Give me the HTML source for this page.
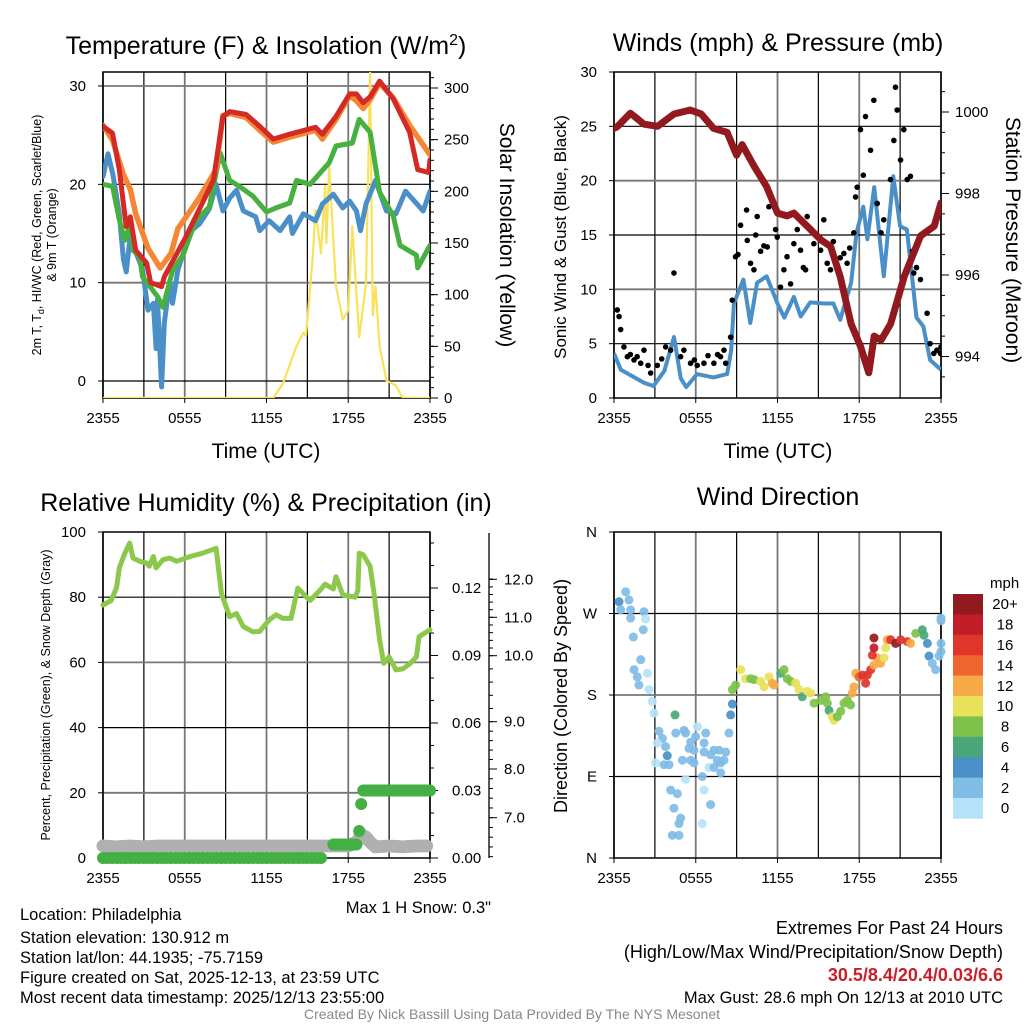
<!DOCTYPE html>
<html><head><meta charset="utf-8"><style>
html,body{margin:0;padding:0;background:#fff;}
svg{display:block;font-family:"Liberation Sans",Arial,sans-serif;}
</style></head><body>
<svg id="c" width="1024" height="1024" viewBox="0 0 1024 1024" xmlns="http://www.w3.org/2000/svg">
<rect width="1024" height="1024" fill="#fff"/>
<g font-size="25" text-anchor="middle" fill="#000">
<text x="266" y="54">Temperature (F) &amp; Insolation (W/m<tspan dy="-9" font-size="16">2</tspan><tspan dy="9">)</tspan></text>
<text x="778" y="51">Winds (mph) &amp; Pressure (mb)</text>
<text x="266" y="511">Relative Humidity (%) &amp; Precipitation (in)</text>
<text x="778" y="505">Wind Direction</text>
</g>
<g font-size="21" text-anchor="middle">
<text x="266" y="458">Time (UTC)</text>
<text x="778" y="458">Time (UTC)</text>
</g>
<g font-size="12.5" text-anchor="middle">
<text transform="translate(41,235) rotate(-90)">2m T, T<tspan dy="3" font-size="9">d</tspan><tspan dy="-3">, HI/WC (Red, Green, Scarlet/Blue)</tspan></text>
<text transform="translate(56,235) rotate(-90)">&amp; 9m T (Orange)</text>
<text transform="translate(50,695) rotate(-90)">Percent, Precipitation (Green), &amp; Snow Depth (Gray)</text>
</g>
<g font-size="21" text-anchor="middle">
<text transform="translate(500,235) rotate(90)">Solar Insolation (Yellow)</text>
<text transform="translate(1006,240) rotate(90)">Station Pressure (Maroon)</text>
</g>
<g font-size="17" text-anchor="middle">
<text transform="translate(566,237) rotate(-90)">Sonic Wind &amp; Gust (Blue, Black)</text>
<text transform="translate(567,696) rotate(-90)" font-size="18">Direction (Colored By Speed)</text>
</g>
<g font-size="16.5">
<text x="20" y="920">Location: Philadelphia</text>
<text x="20" y="943">Station elevation: 130.912 m</text>
<text x="20" y="963">Station lat/lon: 44.1935; -75.7159</text>
<text x="20" y="983">Figure created on Sat, 2025-12-13, at 23:59 UTC</text>
<text x="20" y="1003">Most recent data timestamp: 2025/12/13 23:55:00</text>
<text x="491" y="913" text-anchor="end">Max 1 H Snow: 0.3"</text>
<text x="1003" y="934" text-anchor="end" font-size="18">Extremes For Past 24 Hours</text>
<text x="1003" y="958" text-anchor="end" font-size="18">(High/Low/Max Wind/Precipitation/Snow Depth)</text>
<text x="1003" y="981" text-anchor="end" font-size="18" font-weight="bold" fill="#c8202a">30.5/8.4/20.4/0.03/6.6</text>
<text x="1003" y="1003" text-anchor="end">Max Gust: 28.6 mph On 12/13 at 2010 UTC</text>
<text x="512" y="1019" text-anchor="middle" font-size="14" fill="#888">Created By Nick Bassill Using Data Provided By The NYS Mesonet</text>
</g>
<g id="plots"></g>
</svg>
<script>
// ---------- data ----------
const xTickLabels = ["2355","0555","1155","1755","2355"];
const tempTicks = [0,10,20,30];
const insolTicks = [0,50,100,150,200,250,300];
const windTicks = [0,5,10,15,20,25,30];
const presTicks = [994,996,998,1000];
const rhTicks = [0,20,40,60,80,100];
const precipTicks = [0.00,0.03,0.06,0.09,0.12];
const snowTickVals = [7,8,9,10,11,12];
const dirTickLabels = ["N","E","S","W","N"];
const dirTickVals = [0,90,180,270,360];
const speedBins = ["0","2","4","6","8","10","12","14","16","18","20+"];

const redT = [0,0.7,1.2,1.7,2.0,2.4,3.2,3.5,4.3,4.5,6.1,8.1,8.8,9.3,10.5,11.5,12.5,13.7,15.6,16.1,17.1,18.1,18.6,19.1,19.6,20.3,21.3,22.5,23.1,23.9,24];
const redV = [25.9,25.2,21.5,15.7,16.7,13.3,12,10,9.6,10.6,14.7,20.4,26.9,27.4,27.1,25.9,24.6,25.1,25.8,25.1,26.9,29.2,29.2,28.3,28.9,30.5,28.7,25.3,21.5,21.2,22.5];
const orgT = [0,0.7,1.5,2,2.4,3.3,4.2,5,5.5,6,7,8.3,8.8,9.3,10.5,11.5,12.5,13.7,15.6,16.1,17.1,18.1,18.6,19.1,19.6,20.3,21.3,22.5,24];
const orgV = [26,24.5,21,19.5,17,13.5,11.5,13,15.5,16.5,18.5,21.5,27,27.2,26.8,25.5,24.3,24.8,25.5,24.6,26.6,29,28.5,27.7,28.6,30.3,28.8,26,23];
const grnT = [0,0.7,1.2,1.6,2,2.2,2.7,2.9,4,4.4,5.1,5.9,6.8,7.8,8.6,9.3,10,11,12,12.7,13.7,14.2,15.2,16.6,17.1,18.3,18.8,19.6,20.3,21.3,21.8,23,23.1,24];
const grnV = [20,19.8,16.4,14.3,16,13.3,12.6,10.6,8.6,7.5,11.2,12.9,16.3,17.7,23.2,20.4,19.8,18.8,17.2,17.6,18.1,20.4,20,22.2,23.9,24.2,26.6,25.3,19.2,16.8,13.8,12.8,11.5,13.8];
const bluT = [0,0.37,0.73,1.2,1.5,1.7,2,2.4,2.9,3.3,3.7,3.9,4,4.3,4.5,4.9,5.1,5.5,6.4,7.1,7.8,8.3,8.8,9.3,9.8,10.3,11.2,11.5,12.2,13,13.7,13.9,14.7,15.6,16.1,16.9,17.6,18.1,18.6,18.9,19.3,20,20.8,21.5,22.2,23.5,24];
const bluV = [20.8,23.1,21,17,12.4,11.1,14.8,13.1,11.4,7.2,7.9,3.3,8.3,-0.6,5.9,10.2,7.9,11.3,15.2,16,17.5,20,17.3,18.6,19.4,17.3,16.7,15.3,16.3,15.3,16.7,15,17,16.3,18,19,17.6,18.3,17.3,15.3,18,20.4,17.3,17,19.3,17.3,19.3];
const solT = [0,12.5,13.2,14.2,14.7,14.9,15.4,15.6,16,16.3,16.4,16.6,17.1,17.6,18,18.3,18.8,19.3,19.6,19.8,20,20.3,20.8,21.5,22,24];
const solV = [0,0,14,50,63,60,137,182,140,205,150,224,108,76,85,166,59,110,315,80,108,50,17,12,0,0];

const windT = [0,0.5,1.5,2.2,2.9,3.7,4.4,4.9,5.3,6.1,7.3,8.3,8.6,8.8,9.5,10,10.5,11.2,12,12.5,13.2,13.7,14.4,15.4,16.1,16.6,17.4,17.8,18.3,18.6,19.1,19.8,20.5,21,21.5,22.2,22.7,23.2,24];
const windV = [4.1,2.6,1.9,1.4,1.1,2.5,5.6,1.8,1,2.2,1.9,2.2,4.4,8.7,10.9,6.9,10.6,11.2,8.7,7.4,9.3,7.5,8.8,8.7,8.7,7.2,10.6,15.2,17.6,14.6,19.4,11.2,20.4,15.8,15.5,7.4,6.6,3.5,2.6];
const gustT = [0.24,0.37,0.49,0.73,0.98,1.2,1.47,1.7,1.96,2.2,2.5,2.69,3.18,3.5,3.79,4.16,4.4,4.89,5.13,5.62,5.9,6.11,6.6,6.9,7.33,7.6,7.82,8.07,8.2,8.56,8.68,8.92,9.1,9.29,9.73,9.78,10.02,10.27,10.4,10.51,10.76,11.0,11.25,11.37,11.86,11.98,12.22,12.47,12.7,12.96,13.2,13.45,13.69,13.9,14.06,14.18,14.67,14.9,15.16,15.4,15.65,15.89,16.1,16.38,16.6,16.87,17.11,17.3,17.6,17.73,17.85,18.09,18.3,18.46,18.83,19.07,19.32,19.6,19.8,20.29,20.54,20.66,20.78,21.03,21.27,21.52,21.76,21.9,22.0,22.2,22.49,22.98,23.2,23.47,23.7,23.96,24];
const gustV = [8.1,7.5,6.3,4.7,3.8,4.0,3.5,3.8,3.2,4.4,3.0,2.3,3.0,3.6,4.7,4.4,11.5,3.8,4.4,3.2,3.5,3.0,3.2,3.9,3.2,4.0,3.8,4.4,3.2,5.6,9.0,13.0,13.2,15.9,17.3,14.5,12.4,11.8,15.0,16.7,13.5,14.0,13.9,17.6,15.5,14.8,10.2,11.8,13.0,10.5,14.2,15.5,13.6,12.0,11.8,16.7,14.2,15.0,13.6,16.4,12.4,11.8,14.4,11.8,12.9,13.3,12.4,13.8,15.2,18.5,19.4,24.7,20.5,25.9,22.8,27.4,17.9,15.2,16.4,20.1,23.7,28.6,26.5,21.9,24.7,20.1,20.4,13.5,11.5,12.0,10.9,7.8,5.0,4.1,4.4,4.1,4.7];
const presT = [0,0.24,1.2,2.2,3.2,4.4,5.6,6.4,7.3,8.3,9,9.4,10.3,11.2,12,12.7,13.2,14.2,15.2,15.9,16.6,17.4,18.1,18.7,19.1,19.6,20.3,21.3,22.5,23.5,24];
const presV = [999.6,999.64,999.97,999.7,999.65,999.95,1000.05,999.95,999.6,999.5,998.94,999.2,998.66,998.17,997.52,997.45,997.52,997.19,996.86,996.7,995.96,994.8,994.24,993.6,994.5,994.4,994.8,995.96,996.96,997.2,997.77];

const rhT = [0,0.6,1,1.2,1.6,1.96,2.2,2.7,3.2,3.4,3.7,3.9,4.4,4.9,5.4,6.4,7.3,8.3,8.7,9.3,9.8,10.3,11,11.5,12.2,12.7,13.2,13.8,14.3,14.7,15.2,15.9,16.3,16.9,17.1,17.6,18.5,18.7,18.8,19.1,19.6,19.9,20.3,20.6,21,21.5,22,22.5,23,23.2,24];
const rhV = [77.6,79,83,89,93.5,96.6,92,91,90.5,89.5,92.5,89,91.5,92,91,92.5,93.5,95,81,74,75,71,69.4,69.5,73,74.6,73.5,73.5,82.8,81,79,82,84,82.5,86.3,80.7,80,82,93.5,93,89.5,81,67,59.7,61.7,57.7,58,59.5,61.7,67.9,70];
const precipT = [0,2,4,6,8,10,12,14,16,16.9,17.3,17.8,18.2,18.6,18.8,18.95,19.1,19.6,20,20.5,21,21.5,22,22.5,23,23.5,24];
const precipV = [0,0,0,0,0,0,0,0,0,0.006,0.006,0.006,0.006,0.006,0.012,0.024,0.03,0.03,0.03,0.03,0.03,0.03,0.03,0.03,0.03,0.03,0.03];
const snowT = [0,1,2,3,4,5,6,7,8,9,10,11,12,13,14,15,16,17,18,18.6,19,19.3,19.6,20,21,22,23,24];
const snowV = [6.42,6.4,6.42,6.4,6.42,6.42,6.42,6.42,6.42,6.42,6.42,6.42,6.42,6.42,6.42,6.42,6.42,6.42,6.42,6.5,6.65,6.6,6.5,6.4,6.42,6.4,6.42,6.42];

const dirT = [0.37,0.49,0.86,1.1,1.22,2.2,1.22,2.32,1.42,2.15,1.96,1.47,1.71,2.45,1.83,2.57,2.81,2.94,3.3,3.55,3.18,3.79,3.91,3.67,3.06,4.04,4.48,4.53,5.14,5.26,5.5,5.63,5.99,6.12,5.87,5.02,5.63,6.73,6.61,6.61,7.09,7.34,7.71,8.2,8.44,8.56,8.69,6.97,7.34,7.83,7.83,4.16,4.65,4.4,4.89,4.77,4.28,4.77,5.26,6.48,6.61,7.09,6.48,5.87,7.58,8.07,
8.69,8.93,9.3,9.66,10.03,10.28,10.76,11.01,11.38,11.62,11.74,12.23,12.48,12.72,12.97,13.33,13.58,13.82,14.19,14.43,14.68,15.17,15.54,15.66,15.78,16.15,16.02,16.39,16.64,16.88,17.13,17.37,17.49,17.61,17.74,17.98,18.23,18.47,18.59,18.84,19.08,19.33,19.57,19.82,18.96,19.08,19.08,19.94,20.06,20.31,20.67,21.04,21.53,21.77,22.14,22.63,22.75,23.0,23.12,23.36,23.61,23.85,24,24,24,24];
const dirDeg = [283,274,294,285,274,272,265,264,244,252,219,208,200,204,191,186,173,160,140,132,127,123,113,103,105,103,158,138,141,138,121,128,134,145,119,108,108,138,127,117,114,119,119,117,138,158,170,100,100,105,94,75,71,55,44,38,25,25,87,90,75,59,38,105,108,108,
186,191,208,198,198,197,195,189,200,193,191,204,208,198,195,193,186,178,184,182,171,174,178,171,163,152,156,156,162,171,174,169,182,189,204,200,202,193,202,208,213,221,215,221,224,232,243,232,241,241,237,241,239,237,248,252,246,237,223,215,208,223,228,237,262,265];
const dirSpd = [4.5,3,3,3,3,3,3,1,3,3,3,3,3,1,3,1,1,1,3,3,1,3,4.5,3,1,3,6.5,3,3,3,3,3,3,1,3,3,3,3,3,3,3,3,3,3,3,4.5,4.5,1,3,3,3,3,3,3,3,3,3,3,1,3,1,3,1,3,3,3,
8.5,8.5,10.5,10.5,8.5,8.5,10.5,10.5,10.5,12.5,12.5,6.5,8.5,8.5,8.5,10.5,10.5,6.5,10.5,10.5,8.5,8.5,8.5,8.5,6.5,10.5,10.5,8.5,8.5,8.5,8.5,8.5,13,13,13,15,16,17,16,16,13,12.5,12.5,10.5,17,18,21,10.5,12.5,16,21,16,17,13,8.5,6.5,6.5,4.5,4.5,3,3,3,3,3,3,3];
const binColors = ["#b5e2f8","#7fbce6","#4a8fc7","#4aa878","#7dc24b","#e8e15a","#f7a847","#f0642e","#e0352b","#c11c27","#921a1e"];

// ---------- helpers ----------
const NS="http://www.w3.org/2000/svg";
const root=document.getElementById('plots');
function mk(tag,attrs,parent){const e=document.createElementNS(NS,tag);for(const k in attrs)e.setAttribute(k,attrs[k]);(parent||root).appendChild(e);return e;}
function lin(d0,d1,r0,r1){return v=>r0+(v-d0)*(r1-r0)/(d1-d0);}
function pathD(ts,vs,fx,fy){return ts.map((t,i)=>(i?'L':'M')+fx(t).toFixed(1)+','+fy(vs[i]).toFixed(1)).join('');}

function frame(p,name){
  const g=mk('g',{});
  
  
  for(let h=0;h<=24;h+=3){const x=p.fx(h);mk('line',{x1:x,x2:x,y1:p.y0,y2:p.y1,stroke:(h%6===3)?'#000':'#777','stroke-width':(h%6===3)?1.2:1.8},g);}
  p.hgrid.forEach((y,i)=>mk('line',{x1:p.x0,x2:p.x1,y1:y,y2:y,stroke:i%2?'#777':'#000','stroke-width':i%2?1.8:1.2},g));
  const b=mk('rect',{x:p.x0,y:p.y0,width:p.x1-p.x0,height:p.y1-p.y0,fill:'none',stroke:'#000','stroke-width':1.5});
  
  
  xTickLabels.forEach((l,i)=>{const x=p.fx(i*6);
    mk('line',{x1:x,x2:x,y1:p.y1,y2:p.y1+5,stroke:'#000'});
    const t=mk('text',{x:x,y:p.y1+25,'text-anchor':'middle','font-size':15});t.textContent=l;
    
    });
}
function leftTicks(p,vals,fy,fmt){vals.forEach(v=>{const y=fy(v);
  mk('line',{x1:p.x0-5,x2:p.x0,y1:y,y2:y,stroke:'#000'});
  const t=mk('text',{x:p.x0-17,y:y+5,'text-anchor':'end','font-size':15});t.textContent=fmt?fmt(v):v;
  
  });}
function rightTicks(x,vals,fy,fmt,minorStep,lo,hi,labOff){
  for(let v=lo;v<=hi+1e-9;v+=minorStep){const y=fy(v);mk('line',{x1:x,x2:x+4,y1:y,y2:y,stroke:'#000'});}
  vals.forEach(v=>{const y=fy(v);mk('line',{x1:x,x2:x+8,y1:y,y2:y,stroke:'#000'});
  const t=mk('text',{x:x+(labOff||14),y:y+5,'font-size':15});t.textContent=fmt?fmt(v):v;
  
  });}

// ---------- panel 1 ----------
{const p={x0:103,x1:430,y0:72,y1:398};p.fx=lin(0,24,p.x0,p.x1);
 const fy=lin(0,30,381,86), fs=lin(0,300,398,88);
 p.hgrid=[fy(30),fy(20),fy(10),fy(0)].reverse();
 frame(p,'temperature');
 leftTicks(p,tempTicks,fy);
 rightTicks(p.x1,insolTicks,fs,null,10,0,310);
 const clip=mk('clipPath',{id:'c1'});mk('rect',{x:p.x0,y:p.y0,width:p.x1-p.x0,height:p.y1-p.y0},clip);
 const g=mk('g',{'clip-path':'url(#c1)'});
 const s=[[solT,solV,'#f9e15a',2.2,'insolation-line',fs],[bluT,bluV,'#4a8fc7',5,'heat-index-line',fy],[grnT,grnV,'#46b040',5,'dewpoint-line',fy],[orgT,orgV,'#f58634',5.5,'temp-9m-line',fy],[redT,redV,'#d42a26',5,'temp-2m-line',fy]];
 s.forEach(a=>{const e=mk('path',{d:pathD(a[0],a[1],p.fx,a[5]),fill:'none',stroke:a[2],'stroke-width':a[3],'stroke-linejoin':'round','stroke-linecap':'round'},g);
   
   });
}
// ---------- panel 2 ----------
{const p={x0:614,x1:941,y0:72,y1:398};p.fx=lin(0,24,p.x0,p.x1);
 const fy=lin(0,30,398,72), fp=lin(994,1000,356.5,112);
 p.hgrid=[25,20,15,10,5].map(fy);
 frame(p,'winds');
 leftTicks(p,windTicks,fy);
 rightTicks(p.x1,presTicks,fp,null,0.5,993.5,1000.5);
 const clip=mk('clipPath',{id:'c2'});mk('rect',{x:p.x0,y:p.y0,width:p.x1-p.x0,height:p.y1-p.y0},clip);
 const g=mk('g',{'clip-path':'url(#c2)'});
 const w=mk('path',{d:pathD(windT,windV,p.fx,fy),fill:'none',stroke:'#4a8fc7','stroke-width':4,'stroke-linejoin':'round'},g);
 
 
 gustT.forEach((t,i)=>{const c=mk('circle',{cx:p.fx(t),cy:fy(gustV[i]),r:2.8,fill:'#000'},g);
   
   });
 const pr=mk('path',{d:pathD(presT,presV,p.fx,fp),fill:'none',stroke:'#921a1e','stroke-width':7,'stroke-linejoin':'round','stroke-linecap':'round'},g);
 
 
}
// ---------- panel 3 ----------
{const p={x0:103,x1:430,y0:532,y1:858};p.fx=lin(0,24,p.x0,p.x1);
 const fy=lin(0,100,858,532), fpp=lin(0,0.03,858,790.5);
 const snowY=[817.7,769,721.7,655.7,617.3,579.3];
 const fsn=v=>{if(v<=7)return 817.7-(v-7)*48.7;for(let i=1;i<snowTickVals.length;i++){if(v<=snowTickVals[i])return lin(snowTickVals[i-1],snowTickVals[i],snowY[i-1],snowY[i])(v);}return 579.3;};
 p.hgrid=[80,60,40,20].map(fy);
 frame(p,'humidity');
 leftTicks(p,rhTicks,fy);
 rightTicks(p.x1,precipTicks,fpp,v=>v.toFixed(2),0.01,0,0.14,22);
 mk('line',{x1:489,x2:489,y1:533,y2:858,stroke:'#000','stroke-width':1.3});
 for(let v=6.2;v<=12.8;v+=0.2){const y=fsn(v);mk('line',{x1:489,x2:493,y1:y,y2:y,stroke:'#000'});}
 snowTickVals.forEach(v=>{const y=fsn(v);mk('line',{x1:489,x2:497,y1:y,y2:y,stroke:'#000'});
   const t=mk('text',{x:504,y:y+5,'font-size':15});t.textContent=v.toFixed(1);
   
   });
 const g=mk('g',{});
 const rh=mk('path',{d:pathD(rhT,rhV,p.fx,fy),fill:'none',stroke:'#8cc84b','stroke-width':5,'stroke-linejoin':'round','stroke-linecap':'round'},g);
 
 
 for(let i=0;i<snowT.length-1;i++){for(let k=0;k<4;k++){const t=snowT[i]+(snowT[i+1]-snowT[i])*k/4, v=snowV[i]+(snowV[i+1]-snowV[i])*k/4;
   const c=mk('circle',{cx:p.fx(t),cy:fsn(v),r:6.5,fill:'#b0b0b0'},g);
   
   }}
 for(let i=0;i<precipT.length-1;i++){const n=precipV[i]===precipV[i+1]?6:1;for(let k=0;k<n;k++){const t=precipT[i]+(precipT[i+1]-precipT[i])*k/n;
   const c=mk('circle',{cx:p.fx(t),cy:fpp(precipV[i]),r:6,fill:'#44b044'},g);
   
   }}
 const last=mk('circle',{cx:p.fx(24),cy:fpp(precipV[precipV.length-1]),r:6,fill:'#44b044'},g);
 
 
}
// ---------- panel 4 ----------
{const p={x0:614,x1:941,y0:532,y1:858};p.fx=lin(0,24,p.x0,p.x1);
 const fy=lin(0,360,858,532);
 p.hgrid=[270,180,90].map(fy);
 frame(p,'direction');
 dirTickVals.forEach((v,i)=>{const y=fy(v);mk('line',{x1:p.x0-5,x2:p.x0,y1:y,y2:y,stroke:'#000'});
   const t=mk('text',{x:p.x0-17,y:y+5,'text-anchor':'end','font-size':15});t.textContent=dirTickLabels[i];
   
   });
 const g=mk('g',{});
 dirT.forEach((t,i)=>{const b=Math.min(10,Math.floor(dirSpd[i]/2));
   const c=mk('circle',{cx:p.fx(t),cy:fy(dirDeg[i]),r:4.5,fill:binColors[b],'fill-opacity':0.92},g);
   
   });
 const lt=mk('text',{x:990,y:588,'font-size':15});lt.textContent='mph';
 
 
 const h=20.4;
 speedBins.slice().reverse().forEach((l,i)=>{const y=594+i*h;
   const r=mk('rect',{x:953,y:y,width:30,height:h+0.3,fill:binColors[10-i]});
   
   
   const t=mk('text',{x:1005,y:y+h/2+5,'text-anchor':'middle','font-size':15});t.textContent=l;
   
   });
}
</script>
</body></html>
